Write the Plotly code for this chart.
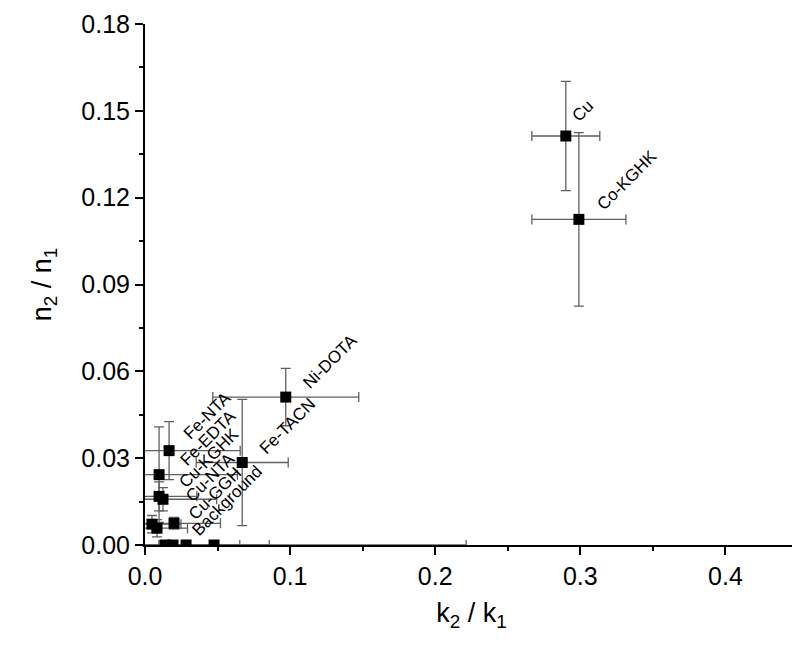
import plotly.graph_objects as go

# k2/k1 vs n2/n1 with error bars
k_ratio = [0.290, 0.299, 0.097, 0.067, 0.0166, 0.0097, 0.0097, 0.0124,
           0.0048, 0.0083, 0.0200, 0.0138, 0.0193, 0.0283, 0.0476]
n_ratio = [0.1413, 0.1125, 0.0511, 0.0285, 0.0326, 0.0243, 0.0168, 0.0158,
           0.0072, 0.0058, 0.0075, 0.0, 0.0, 0.0, 0.0]
k_err = [0.0234, 0.0324, 0.0503, 0.0317, 0.049, 0.054, 0.026, 0.037,
         0.020, 0.021, 0.032, 0.0, 0.202, 0.037, 0.038]
n_err = [0.0189, 0.030, 0.0099, 0.0218, 0.010, 0.0165, 0.005, 0.004,
         0.003, 0.003, 0.002, 0.0, 0.0, 0.0, 0.0]

# sample labels and where they sit on the chart
labels = ["Cu", "Co-KGHK", "Ni-DOTA", "Fe-TACN", "Fe-NTA", "Fe-EDTA",
          "Cu-KGHK", "Cu-NTA", "Cu-GGH", "Background"]
label_x = [0.302, 0.332, 0.1276, 0.0979, 0.0431, 0.0431, 0.0438, 0.0448, 0.0483, 0.0569]
label_y = [0.150, 0.126, 0.0634, 0.0411, 0.0447, 0.0369, 0.0300, 0.0233, 0.0178, 0.0153]

FONT = "Liberation Sans, Arial, Helvetica, sans-serif"
ERR_COLOR = "#606060"

fig = go.Figure()
fig.add_trace(go.Scatter(
    x=k_ratio, y=n_ratio, mode="markers",
    marker=dict(symbol="square", size=11, color="black"),
    error_x=dict(type="data", array=k_err, visible=True,
                 color=ERR_COLOR, thickness=1.3, width=5),
    error_y=dict(type="data", array=n_err, visible=True,
                 color=ERR_COLOR, thickness=1.3, width=5),
    showlegend=False,
))

for txt, lx, ly in zip(labels, label_x, label_y):
    fig.add_annotation(x=lx, y=ly, text=txt, showarrow=False, textangle=-45,
                       font=dict(family=FONT, size=17, color="black"))

# page body has an 8px margin, so the figure is a bit smaller than the window
fig.update_layout(
    width=792, height=646,
    margin=dict(l=137, r=2, t=12, b=109),
    plot_bgcolor="white", paper_bgcolor="white",
    font=dict(family=FONT, color="black"),
)
fig.update_xaxes(
    range=[0, 0.45], dtick=0.1, tick0=0, tickformat=".1f",
    showgrid=False, zeroline=False,
    showline=True, linecolor="black", linewidth=2,
    ticks="outside", ticklen=8, tickwidth=2, tickcolor="black",
    minor=dict(dtick=0.05, ticks="outside", ticklen=4, tickwidth=2, tickcolor="black"),
    tickfont=dict(size=25),
    title=dict(text="k<sub>2</sub> / k<sub>1</sub>", font=dict(size=27), standoff=14),
)
fig.update_yaxes(
    range=[0, 0.18], dtick=0.03, tick0=0, tickformat=".2f",
    showgrid=False, zeroline=False,
    showline=True, linecolor="black", linewidth=2,
    ticks="outside", ticklen=8, tickwidth=2, tickcolor="black",
    minor=dict(dtick=0.015, ticks="outside", ticklen=4, tickwidth=2, tickcolor="black"),
    tickfont=dict(size=25), ticklabeloverflow="allow",
    title=dict(text="n<sub>2</sub> / n<sub>1</sub>", font=dict(size=27), standoff=22),
)

fig.write_html("out.html")
